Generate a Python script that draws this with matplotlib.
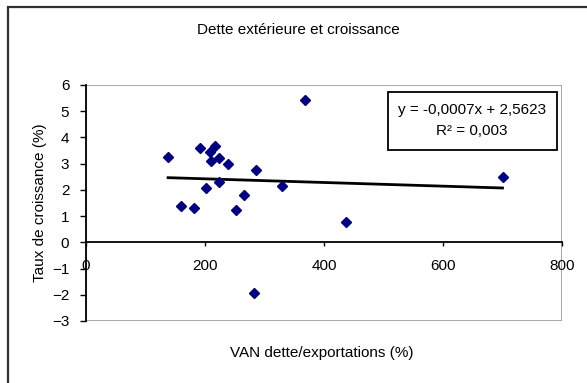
import matplotlib
matplotlib.use('Agg')
import matplotlib.pyplot as plt
from matplotlib.patches import Rectangle
import numpy as np

plt.rcParams['font.family'] = ['Liberation Sans', 'DejaVu Sans']

# VAN dette/exportations (%) vs taux de croissance (%)
van_dette = [138, 159, 182, 192, 201, 208, 210, 217, 223, 223, 239, 252, 265, 286, 329, 368, 437, 700, 283]
croissance = [3.27, 1.40, 1.30, 3.61, 2.09, 3.44, 3.11, 3.68, 3.23, 2.29, 3.00, 1.22, 1.82, 2.75, 2.15, 5.41, 0.76, 2.51, -1.95]

# tendance lineaire
pente = -0.0007
ordonnee = 2.5623
r2 = 0.003

x_ticks = [0, 200, 400, 600, 800]
y_ticks = [-3, -2, -1, 0, 1, 2, 3, 4, 5, 6]

fs = 11
W, H = 587, 383
fig = plt.figure(figsize=(W / 100, H / 100), dpi=100)
ax = fig.add_axes([86 / W, 1 - 321 / H, (562 - 86) / W, (321 - 85) / H])

ax.plot(van_dette, croissance, 'D', color='#000080', markersize=5.5, zorder=3)

xt = np.array([min(van_dette), max(van_dette)])
ax.plot(xt, pente * xt + ordonnee, color='black', lw=2.0, zorder=2)

ax.set_xlim(0, 800)
ax.set_ylim(-3, 6)
ax.set_xticks(x_ticks)
ax.set_yticks(y_ticks)

# axe x sur y=0, cadre gris autour de la zone
ax.spines['bottom'].set_position(('data', 0))
ax.spines['top'].set_visible(False)
ax.spines['right'].set_visible(False)
ax.spines['left'].set_linewidth(1.3)
ax.spines['bottom'].set_linewidth(1.3)
ax.add_patch(Rectangle((0, 0), 1, 1, transform=ax.transAxes, fill=False,
                       edgecolor='#a0a0a0', lw=1.3, zorder=0))
ax.tick_params(axis='y', direction='out', length=4, width=1, pad=8, labelsize=fs)
ax.tick_params(axis='x', direction='out', length=3, width=1, pad=9, labelsize=fs)

# boite de l'equation
fig.patches.append(Rectangle((388 / W, 1 - 150 / H), (557 - 388) / W, (150 - 92) / H,
                             transform=fig.transFigure, fill=False, edgecolor='black', lw=1.3))
fig.text(472 / W, 1 - 110 / H, 'y = -0,0007x + 2,5623', ha='center', va='center', fontsize=fs)
fig.text(472 / W, 1 - 131 / H, 'R² = 0,003', ha='center', va='center', fontsize=fs)

fig.text(298 / W, 1 - 30 / H, 'Dette extérieure et croissance', ha='center', va='center', fontsize=fs)
fig.text(322 / W, 1 - 353 / H, 'VAN dette/exportations (%)', ha='center', va='center', fontsize=fs)
fig.text(40 / W, 1 - 203 / H, 'Taux de croissance (%)', ha='center', va='center',
         rotation=90, fontsize=fs)

# cadre exterieur
fig.patches.append(Rectangle((7.5 / W, -0.1), 1.2, 1 - 6.5 / H + 0.1,
                             transform=fig.transFigure, fill=False, edgecolor='#303030', lw=1.6))

fig.savefig('out.png', dpi=100)
